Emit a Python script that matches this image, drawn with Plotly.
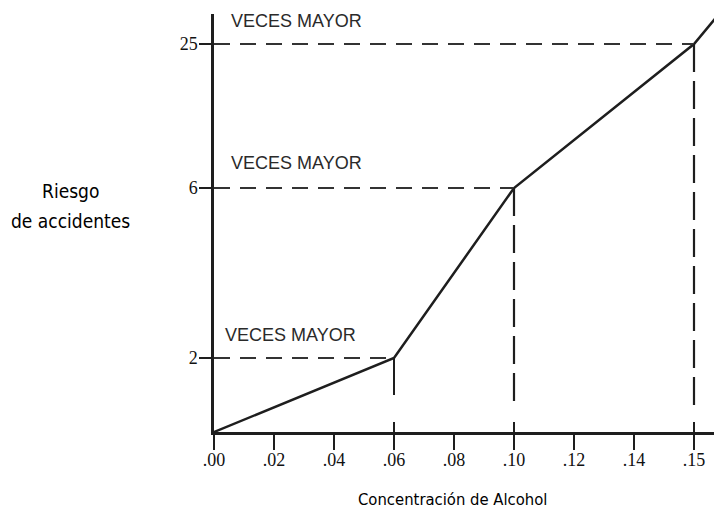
import numpy as np
import plotly.graph_objects as go

# ---------------- data ----------------
conc_ticks = [0.00, 0.02, 0.04, 0.06, 0.08, 0.10, 0.12, 0.14, 0.15]
conc_labels = [".00", ".02", ".04", ".06", ".08", ".10", ".12", ".14", ".15"]
risk_ticks = [2, 6, 25]
risk_labels = ["2", "6", "25"]
curve_conc = [0.00, 0.06, 0.10, 0.15]
curve_risk = [1, 2, 6, 25]
ref_conc = [0.06, 0.10, 0.15]
ref_risk = [2, 6, 25]
ref_text = ["VECES MAYOR", "VECES MAYOR", "VECES MAYOR"]
y_title_lines = ["Riesgo", "de accidentes"]
x_title = "Concentración de Alcohol"

# ------------- non-linear axis scales (as drawn in the original) -------------
x_scale_pos = list(range(len(conc_ticks)))          # evenly spaced ticks
y_scale_vals = [1, 2, 6, 25]
y_scale_pos = [0, 74, 244, 388]

def xp(c):
    return float(np.interp(c, conc_ticks, x_scale_pos))

def yp(r):
    return float(np.interp(r, y_scale_vals, y_scale_pos))

INK = "#1e1e1e"
X_MAX = 500 / 60
Y_MAX = 418
NARROW = "Liberation Sans Narrow, DejaVu Sans Condensed, sans-serif"

fig = go.Figure()

# main curve with its continuation beyond the last tick
cx = [xp(c) for c in curve_conc]
cy = [yp(r) for r in curve_risk]
tail_dx, tail_slope = 0.5, 72.0
cx.append(cx[-1] + tail_dx)
cy.append(cy[-1] + tail_dx * tail_slope)
fig.add_trace(go.Scatter(x=cx, y=cy, mode="lines",
                         line=dict(color=INK, width=2.5), hoverinfo="skip"))

# horizontal dashed reference lines
for c, r in zip(ref_conc, ref_risk):
    fig.add_trace(go.Scatter(x=[0, xp(c)], y=[yp(r), yp(r)], mode="lines",
                             line=dict(color="#333", width=2, dash="16px,10px"),
                             hoverinfo="skip"))

# vertical reference lines
for i, (c, r) in enumerate(zip(ref_conc, ref_risk)):
    if i == 0:
        fig.add_trace(go.Scatter(x=[xp(c), xp(c)], y=[yp(r), 37], mode="lines",
                                 line=dict(color=INK, width=2), hoverinfo="skip"))
    else:
        fig.add_trace(go.Scatter(x=[xp(c), xp(c)], y=[yp(r), 22], mode="lines",
                                 line=dict(color=INK, width=2.2, dash="28px,9px"),
                                 hoverinfo="skip"))
    # tick crossing the baseline
    fig.add_trace(go.Scatter(x=[xp(c), xp(c)], y=[0, 10], mode="lines",
                             line=dict(color=INK, width=2), hoverinfo="skip"))

# labels
label_dx = [0.15, 0.25, 0.25]
label_dy = [23, 25, 23]
for t, c, r, dx, dy in zip(ref_text, ref_conc, ref_risk, label_dx, label_dy):
    fig.add_annotation(x=dx, y=yp(r) + dy, text=t, showarrow=False,
                       xanchor="left", yanchor="middle",
                       font=dict(family="Liberation Sans, Arial, sans-serif",
                                 size=18, color="#2a2a2a"))

# y-axis title (two lines, centred left of the axis)
for line, ypix in zip(y_title_lines, [191, 221]):
    fig.add_annotation(xref="paper", yref="paper", x=(70 - 214) / 500, y=(432 - ypix) / 418,
                       text=line, showarrow=False, xanchor="center", yanchor="middle",
                       font=dict(family=NARROW, size=19, color="#000"))
fig.add_annotation(xref="paper", yref="paper", x=(452 - 214) / 500, y=(432 - 499) / 418,
                   text=x_title, showarrow=False, xanchor="center", yanchor="middle",
                   font=dict(family=NARROW, size=16.5, color="#000"))

tick_font = dict(family="Liberation Serif, Times New Roman, serif", size=18, color="#111")

fig.update_layout(
    width=714, height=514,
    margin=dict(l=214, r=0, t=14, b=82, pad=0),
    paper_bgcolor="white", plot_bgcolor="white",
    showlegend=False,
    xaxis=dict(range=[0, X_MAX], tickmode="array",
               tickvals=[xp(c) for c in conc_ticks], ticktext=conc_labels,
               showgrid=False, zeroline=False, showline=True, linecolor=INK, linewidth=2.5,
               ticks="outside", ticklen=15, tickwidth=2, tickcolor=INK,
               ticklabelstandoff=-5, tickfont=tick_font, fixedrange=True),
    yaxis=dict(range=[0, Y_MAX], tickmode="array",
               tickvals=[yp(r) for r in risk_ticks], ticktext=risk_labels,
               showgrid=False, zeroline=False, showline=True, linecolor=INK, linewidth=2.5,
               ticks="outside", ticklen=12, tickwidth=2, tickcolor=INK,
               ticklabelstandoff=-2, tickfont=tick_font, fixedrange=True),
)

fig.write_html("out.html", config={"displayModeBar": False},
               post_script="document.body.style.margin='0';document.body.style.overflow='hidden';")
